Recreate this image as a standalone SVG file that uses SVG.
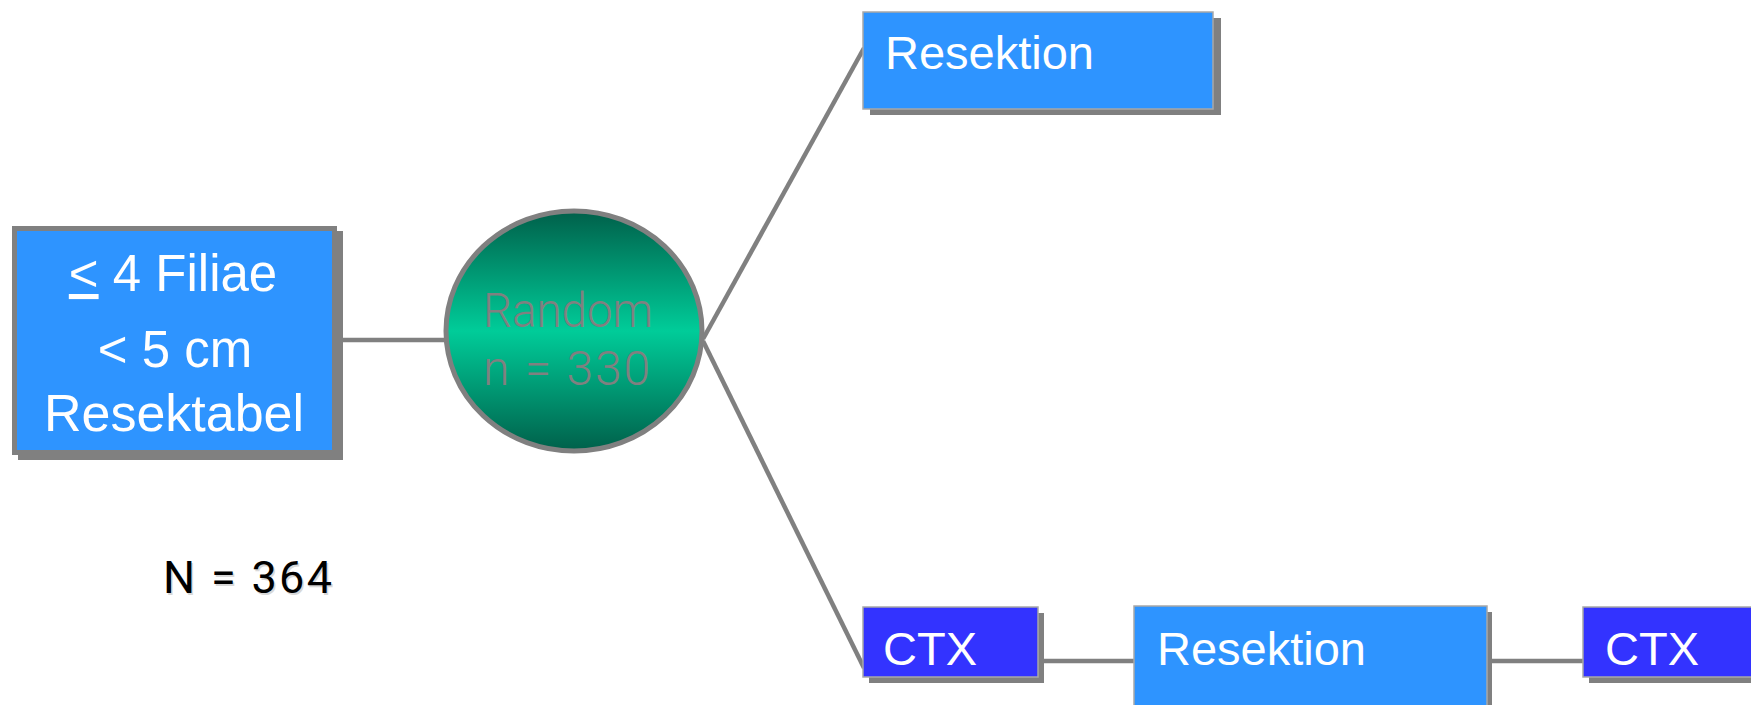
<svg xmlns="http://www.w3.org/2000/svg" width="1751" height="705" viewBox="0 0 1751 705">
  <defs>
    <linearGradient id="greenBall" x1="0" y1="0" x2="0" y2="1">
      <stop offset="0" stop-color="#00604A"/>
      <stop offset="0.5" stop-color="#00CC99"/>
      <stop offset="1" stop-color="#00604A"/>
    </linearGradient>
    <style>
      .link { stroke: #808080; stroke-width: 4.5; fill: none; }
      .shadow { fill: #808080; }
      .blue { fill: #2E94FF; stroke: #A8A8A8; stroke-width: 1.5; }
      .ctx { fill: #3333FF; stroke: #A8A8A8; stroke-width: 1.5; }
      .label { font-family: "Liberation Sans", Arial, sans-serif; fill: #FFFFFF; }
      .grey { font-family: Roboto, "Liberation Sans", sans-serif; font-weight: 300; fill: #808080; }
      .count { font-family: Roboto, "Liberation Sans", sans-serif; font-weight: 400; }
    </style>
  </defs>

  <rect width="1751" height="705" fill="#FFFFFF"/>

  <!-- connectors -->
  <g id="connectors">
    <line class="link" x1="334" y1="340" x2="447" y2="340"/>
    <line class="link" x1="703" y1="339" x2="864" y2="48"/>
    <line class="link" x1="703" y1="341" x2="864" y2="668"/>
    <line class="link" x1="1038" y1="661" x2="1135" y2="661"/>
    <line class="link" x1="1487" y1="661" x2="1584" y2="661"/>
  </g>

  <!-- criteria box -->
  <g id="criteria">
    <rect class="shadow" x="18" y="231" width="325" height="229"/>
    <rect x="14.5" y="228.5" width="320" height="224" fill="#2E94FF" stroke="#808080" stroke-width="5"/>
    <text class="label" x="173" y="291" font-size="51" text-anchor="middle"><tspan text-decoration="underline">&lt;</tspan> 4 Filiae</text>
    <text class="label" x="175" y="367" font-size="51" text-anchor="middle">&lt; 5 cm</text>
    <text class="label" x="174" y="431" font-size="52" text-anchor="middle">Resektabel</text>
  </g>

  <!-- randomisation -->
  <g id="random">
    <ellipse cx="574" cy="331" rx="128" ry="120" fill="url(#greenBall)" stroke="#808080" stroke-width="5"/>
    <text class="grey" x="483" y="327" font-size="48" textLength="170" lengthAdjust="spacingAndGlyphs">Random</text>
    <text class="grey" x="483" y="385" font-size="48" textLength="167" lengthAdjust="spacing">n = 330</text>
  </g>

  <!-- total count -->
  <g id="total">
    <text class="count" x="164.5" y="594.5" font-size="45" fill="#D8D8D8" textLength="169" lengthAdjust="spacing">N = 364</text>
    <text class="count" x="163" y="593" font-size="45" fill="#000000" textLength="169" lengthAdjust="spacing">N = 364</text>
  </g>

  <!-- arm A: surgery -->
  <g id="armA-resektion">
    <rect class="shadow" x="870" y="18" width="351" height="97"/>
    <rect class="blue" x="863" y="12" width="350" height="97"/>
    <text class="label" x="885" y="69" font-size="47">Resektion</text>
  </g>

  <!-- arm B: chemo, surgery, chemo -->
  <g id="armB-ctx1">
    <rect class="shadow" x="869" y="613" width="175" height="70"/>
    <rect class="ctx" x="863" y="607" width="175" height="70"/>
    <text class="label" x="883" y="665" font-size="47">CTX</text>
  </g>

  <g id="armB-resektion">
    <rect class="shadow" x="1140" y="612" width="352" height="100"/>
    <rect class="blue" x="1134" y="606" width="353" height="106"/>
    <text class="label" x="1157" y="665" font-size="47">Resektion</text>
  </g>

  <g id="armB-ctx2">
    <rect class="shadow" x="1589" y="613" width="175" height="70"/>
    <rect class="ctx" x="1583" y="607" width="175" height="70"/>
    <text class="label" x="1605" y="665" font-size="47">CTX</text>
  </g>
</svg>
